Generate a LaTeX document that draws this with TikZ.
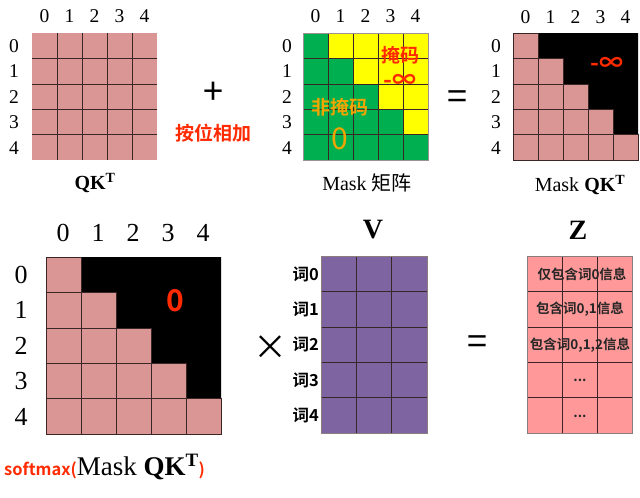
\documentclass[tikz,border=0pt]{standalone}
\usepackage{fontspec}
\setmainfont{Liberation Serif}
\newfontfamily\cjk{Noto Sans CJK SC}[BoldFont={Noto Sans CJK SC Bold}]
\usepackage{xcolor}
\definecolor{qkpink}{HTML}{D99694}
\definecolor{zpink}{HTML}{FF9999}
\definecolor{vpurple}{HTML}{7E64A0}
\definecolor{mgreen}{HTML}{00B050}
\definecolor{myellow}{HTML}{FFFF00}
\definecolor{gridline}{HTML}{3A2626}
\definecolor{redtxt}{HTML}{FF2A00}
\definecolor{goldtxt}{HTML}{F0A500}

\tikzset{
  idx/.style={font=\fontsize{19.5}{21}\selectfont, inner sep=0pt},
  bigidx/.style={font=\fontsize{26}{28}\selectfont, inner sep=0pt},
  mlabel/.style={font=\fontsize{20}{22}\selectfont, inner sep=0pt},
  zh/.style={font=\cjk\bfseries\fontsize{19}{21}\selectfont, inner sep=0pt},
  op/.style={font=\cjk\fontsize{36}{38}\selectfont, inner sep=0pt},
  cellline/.style={draw=gridline, line width=0.6pt}
}

\begin{document}
\begin{tikzpicture}[x=1pt, y=-1pt]
\useasboundingbox (0,0) rectangle (640,498);

% QK^T
\fill[qkpink] (32,33) rectangle (157,160);
\foreach \k in {1,...,4} {
  \draw[cellline] ({32+25*\k},33) -- ({32+25*\k},160);
  \draw[cellline] (32,{33+25.4*\k}) -- (157,{33+25.4*\k});
}
\foreach \k in {0,...,4} {
  \node[idx] (qcol\k) at ({44.5+25*\k},16) {\k};
  \node[idx] (qrow\k) at (14,{46+25.4*\k}) {\k};
}
\node[mlabel] (qklbl) at (95,183) {\textbf{QK\textsuperscript{T}}};

\node[op] (plus) at (213,93) {+};
\node[zh, text=redtxt] (addlbl) at (213,133) {按位相加};

% Mask
\fill[myellow] (303,33) rectangle (428,160);
\foreach \r in {0,...,4}
  \foreach \c in {0,...,\r}
    \fill[mgreen] ({303+25*\c},{33+25.4*\r}) rectangle +(25,25.4);
\foreach \k in {1,...,4} {
  \draw[cellline] ({303+25*\k},33) -- ({303+25*\k},160);
  \draw[cellline] (303,{33+25.4*\k}) -- (428,{33+25.4*\k});
}
\draw[draw=gridline!50, line width=0.4pt] (303,33) rectangle (428,160);
\foreach \k in {0,...,4} {
  \node[idx] (mcol\k) at ({315.5+25*\k},16) {\k};
  \node[idx] (mrow\k) at (287,{46+25.4*\k}) {\k};
}
\node[zh, text=redtxt] (masked) at (400,55) {掩码};
\node[zh, text=redtxt, font=\cjk\bfseries\fontsize{24}{26}\selectfont] (minf) at (400,81) {-∞};
\node[zh, text=goldtxt] (unmasked) at (340,107) {非掩码};
\node[zh, text=goldtxt, font=\cjk\fontsize{30}{32}\selectfont] (zero) at (340,139) {0};
\node[mlabel] (masklbl) at (367,183) {Mask {\cjk 矩阵}};

\node[op] (eq1) at (457,100) {=};

% Mask QK^T
\fill[black] (538,33) -- (638,33) -- (638,135) -- (613,135) -- (613,109.6)
  -- (588,109.6) -- (588,84.2) -- (563,84.2) -- (563,58.4) -- (538,58.4) -- cycle;
\foreach \r in {0,...,4}
  \foreach \c in {0,...,\r}
    \draw[cellline, fill=qkpink] ({513+25*\c},{33+25.4*\r}) rectangle +(25,25.4);
\foreach \k in {0,...,4} {
  \node[idx] (kcol\k) at ({525.5+25*\k},17) {\k};
  \node[idx] (krow\k) at (496,{46+25.4*\k}) {\k};
}
\node[zh, text=redtxt, font=\cjk\bfseries\fontsize{24}{26}\selectfont] (kinf) at (607,64) {-∞};
\node[mlabel] (mqklbl) at (580,185) {Mask \textbf{QK\textsuperscript{T}}};

% softmax
\fill[black] (81,257) -- (221,257) -- (221,398.6) -- (186,398.6) -- (186,363.2)
  -- (151,363.2) -- (151,327.8) -- (116,327.8) -- (116,292.4) -- (81,292.4) -- cycle;
\foreach \r in {0,...,4}
  \foreach \c in {0,...,\r}
    \draw[cellline, fill=qkpink] ({46+35*\c},{257+35.4*\r}) rectangle +(35,35.4);
\foreach \k in {0,...,4} {
  \node[bigidx] (scol\k) at ({63+35*\k},233) {\k};
  \node[bigidx] (srow\k) at (21,{275+35.4*\k}) {\k};
}
\node[zh, text=redtxt, font=\cjk\bfseries\fontsize{30}{32}\selectfont] (szero) at (175,301) {0};
\node[anchor=west, inner sep=0pt] (smlbl) at (4,467)
  {{\cjk\bfseries\color{redtxt}\fontsize{16.5}{18}\selectfont softmax(}{\fontsize{27}{29}\selectfont Mask \textbf{QK\textsuperscript{T}}}{\cjk\bfseries\color{redtxt}\fontsize{16.5}{18}\selectfont )}};

\node[op, font=\cjk\fontsize{34}{36}\selectfont] (times) at (270,348) {×};

% V
\fill[vpurple] (321,256) rectangle (427,433);
\foreach \k in {1,2} \draw[cellline] ({321+35.3*\k},256) -- ({321+35.3*\k},433);
\foreach \k in {1,...,4} \draw[cellline] (321,{256+35.4*\k}) -- (427,{256+35.4*\k});
\draw[draw=gridline!60, line width=0.5pt] (321,256) rectangle (427,433);
\foreach \k in {0,...,4}
  \node[zh, font=\cjk\bfseries\fontsize{16.5}{18}\selectfont, anchor=east] (word\k) at (319,{274+35.4*\k}) {词\k};
\node[mlabel, font=\fontsize{28}{30}\selectfont] (vlbl) at (373,230) {\textbf{V}};

\node[op] (eq2) at (477,345) {=};

% Z
\fill[zpink] (527,256) rectangle (632,433);
\foreach \k in {1,2} \draw[cellline] ({527+35*\k},256) -- ({527+35*\k},433);
\foreach \k in {1,...,4} \draw[cellline] (527,{256+35.4*\k}) -- (632,{256+35.4*\k});
\draw[draw=gridline!60, line width=0.5pt] (527,256) rectangle (632,433);
\tikzset{ztxt/.style={font=\cjk\bfseries\fontsize{13.5}{15}\selectfont, inner sep=0pt, text=black!85}}
\node[ztxt] (z0) at (582,274) {仅包含词0信息};
\node[ztxt] (z1) at (580,309) {包含词0,1信息};
\node[ztxt] (z2) at (580,345) {包含词0,1,2信息};
\node[ztxt] (z3) at (580,380) {...};
\node[ztxt] (z4) at (580,416) {...};
\node[mlabel, font=\fontsize{28}{30}\selectfont] (zlbl) at (578,230) {\textbf{Z}};

\end{tikzpicture}
\end{document}
